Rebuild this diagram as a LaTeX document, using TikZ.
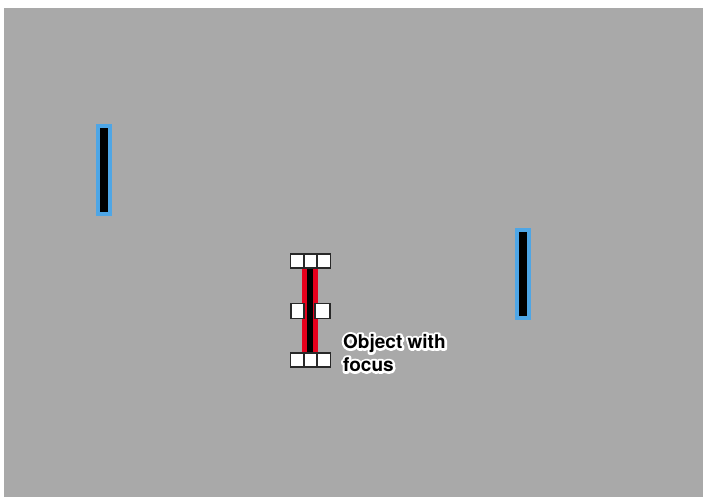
\documentclass[tikz,border=0pt]{standalone}
\usepackage{fontspec}
\setmainfont{TeX Gyre Heros}
\newfontfamily\halofont[FakeBold=24]{TeX Gyre Heros Bold}
\definecolor{bggray}{RGB}{169,169,169}
\definecolor{selblue}{RGB}{78,166,230}
\definecolor{focusred}{RGB}{232,0,28}
\definecolor{handleedge}{RGB}{40,40,40}
\tikzset{
  barbox/.style={draw=selblue, fill=black, line width=4pt, inner sep=0pt,
    minimum width=12pt, minimum height=88pt},
  focusbar/.style={draw=focusred, fill=black, line width=5pt, inner sep=0pt,
    minimum width=11pt, minimum height=95pt},
  handle/.style={draw=handleedge, fill=white, line width=1.4pt, inner sep=0pt,
    minimum width=13pt, minimum height=14pt},
  labeltext/.style={anchor=base west, align=left, inner sep=0pt,
    font=\bfseries\fontsize{19}{23}\selectfont},
  halotext/.style={anchor=base west, align=left, inner sep=0pt, text=white,
    font=\halofont\fontsize{19.1}{23}\selectfont\special{pdf:literal direct 1 j 1 J 1 M}}
}
\begin{document}
\begin{tikzpicture}[x=1pt, y=-1pt]
			\useasboundingbox (0,0) rectangle (703,497);
			\fill[bggray] (4,8) rectangle (703,497);
			\node[barbox] (leftbar) at (104,170) {};
			\node[barbox] (rightbar) at (522.5,273.5) {};
			\node[focusbar] (focus) at (310,310) {};
			\foreach \x/\n in {297/a, 310.5/b, 324/c}
			{\node[handle] (top\n) at (\x,261) {};
			 \node[handle] (bot\n) at (\x,360) {};}
			\node[handle, minimum height=15pt] (midl) at (297.5,311) {};
			\node[handle, minimum width=15pt, minimum height=15pt] (midr) at (322.5,311) {};
			\node[halotext] (halo) at (343,371.5) {Object with\\focus};
			\node[labeltext] (label) at (343,371.5) {Object with\\focus};
		\end{tikzpicture}
\end{document}
